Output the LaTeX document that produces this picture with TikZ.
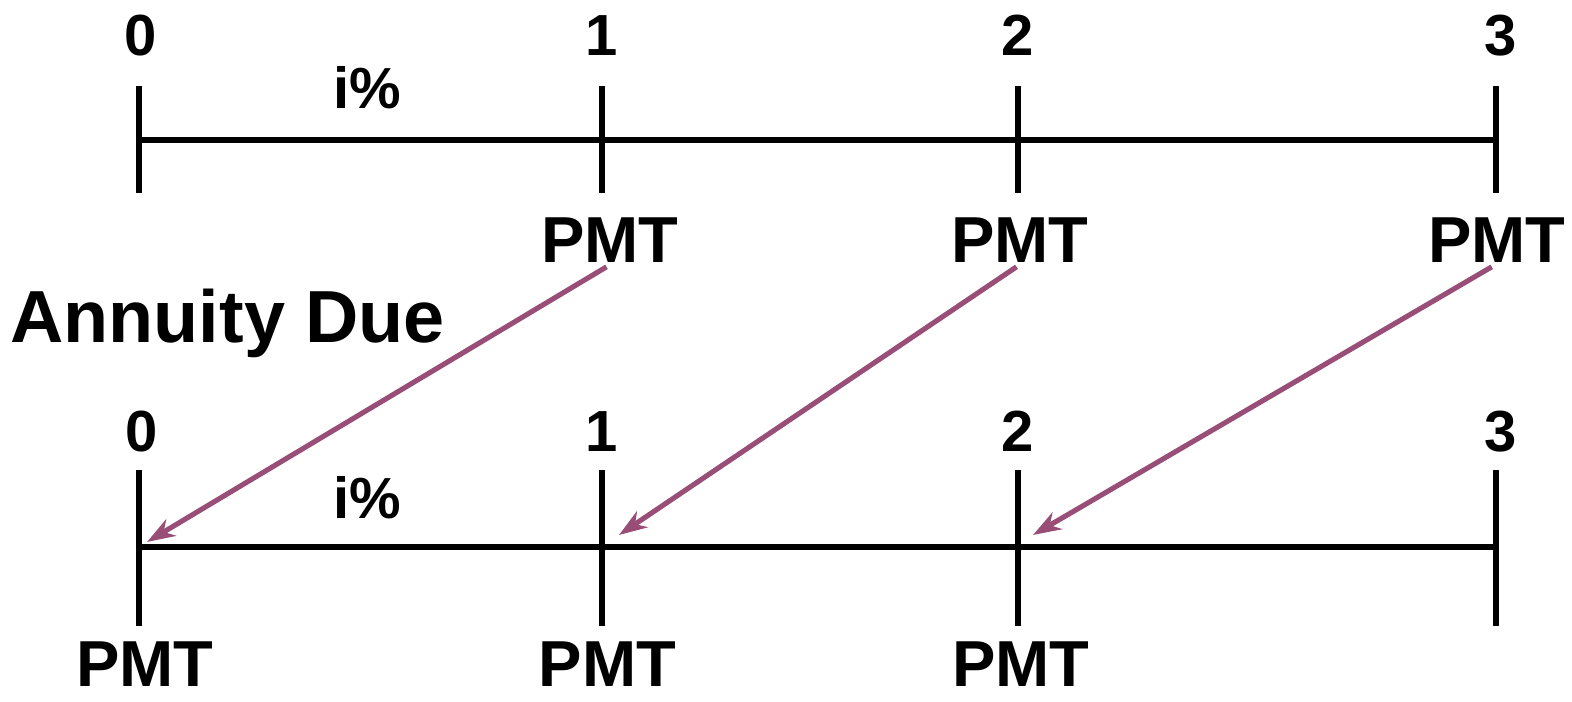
\documentclass[tikz,border=0pt]{standalone}
\usepackage{fontspec}
\setmainfont{Liberation Sans}
\usetikzlibrary{arrows.meta}
\definecolor{mauve}{RGB}{152,78,118}

\begin{document}
\begin{tikzpicture}[>={Stealth[length=16pt,width=11pt,inset=5pt]},
  tline/.style={line width=3pt},
  pay/.style={->, draw=mauve, line width=2.9pt},
  num/.style={inner sep=0pt, anchor=base, font=\fontsize{33}{38}\bfseries},
  rate/.style={inner sep=0pt, anchor=base, font=\fontsize{33}{38}\bfseries},
  pmt/.style={inner sep=0pt, anchor=base, font=\fontsize{37}{42}\bfseries},]
\useasboundingbox (0,0) rectangle (31.44,14.04);
% ordinary annuity
\draw [tline] (2.78,11.24)--(29.92,11.24);
\foreach \x in {2.78,12.04,20.36,29.92}
  \draw [tline] (\x,10.18)--(\x,12.32);
\node [num] (1) at (2.82,12.92) {0};
\node [num] (2) at (12.04,12.92) {1};
\node [num] (3) at (20.36,12.92) {2};
\node [num] (4) at (30.02,12.92) {3};
\node [rate] (r) at (7.34,11.86) {i\%};
\node [pmt] (p1) at (12.2,8.78) {PMT};
\node [pmt] (p2) at (20.4,8.78) {PMT};
\node [pmt] (p3) at (29.94,8.78) {PMT};
% annuity due
\node [inner sep=0pt, anchor=base west, font=\fontsize{42}{48}\bfseries] (due) at (0.2,7.18) {Annuity Due};
\draw [tline] (2.78,3.1)--(29.92,3.1);
\foreach \x in {2.78,12.04,20.36,29.92}
  \draw [tline] (\x,1.52)--(\x,4.64);
\node [num] (5) at (2.84,5.0) {0};
\node [num] (6) at (12.04,5.0) {1};
\node [num] (7) at (20.36,5.0) {2};
\node [num] (8) at (30.02,5.0) {3};
\node [rate] (rd) at (7.34,3.66) {i\%};
\node [pmt] (q1) at (2.9,0.3) {PMT};
\node [pmt] (q2) at (12.15,0.3) {PMT};
\node [pmt] (q3) at (20.42,0.3) {PMT};
\coordinate (e1) at (2.94,3.2);
\coordinate (e2) at (12.38,3.34);
\coordinate (e3) at (20.66,3.34);
 \draw [pay] ([xshift=-2pt,yshift=-2pt]p1.south)--(e1);
 \draw [pay] ([xshift=-2pt,yshift=-2pt]p2.south)--(e2);
 \draw [pay] ([xshift=-3pt,yshift=-2pt]p3.south)--(e3);
\end{tikzpicture}
\end{document}
